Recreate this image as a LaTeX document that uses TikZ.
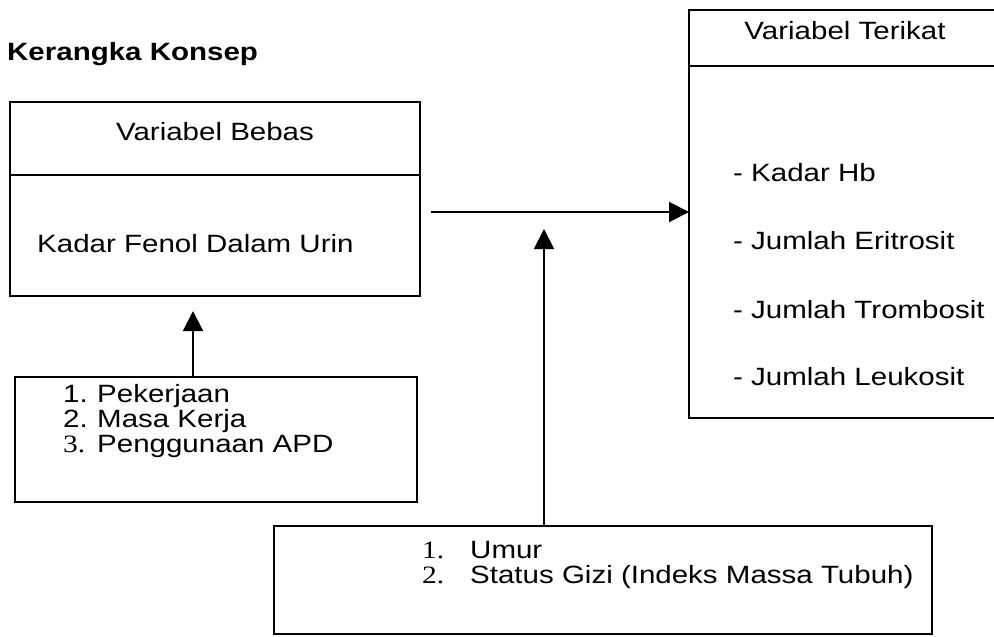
\documentclass[tikz,border=0pt]{standalone}
\usepackage{fontspec}
\setmainfont{Liberation Sans}[FakeStretch=1.18]
\newfontfamily\numfont{Liberation Serif}[FakeStretch=1.18]
\usetikzlibrary{arrows.meta, positioning}

\tikzset{
    box/.style={draw, rectangle, line width=2pt, outer sep=0pt, inner sep=0pt},
    head/.style={text height=18pt, text depth=15pt},
    txt/.style={anchor=base west, inner sep=0pt},
    link/.style={line width=2pt, -{Triangle[length=20pt, width=20pt]}}
}

\begin{document}
\begin{tikzpicture}[x=1pt, y=-1pt, font=\fontsize{25}{25}\selectfont]
    \useasboundingbox (0,0) rectangle (994,637);
    % Title
    \node (title) [txt, font=\fontsize{25}{25}\selectfont\bfseries] at (7,60) {Kerangka Konsep};
    % Define the blocks for the variables
    \node (bebashead) [box, head, anchor=north west, minimum width=410pt, minimum height=73pt] at (10,102) {Variabel Bebas};
    \node (bebas) [box, below=0pt of bebashead, minimum width=410pt, minimum height=121pt] {};
    \node (fenol) [txt] at (37,252) {Kadar Fenol Dalam Urin};
    \node (terikathead) [box, head, anchor=north west, minimum width=312pt, minimum height=56pt] at (689,10) {Variabel Terikat};
    \node (terikat) [box, below=0pt of terikathead, minimum width=312pt, minimum height=352pt] {};
    \node (hb) [txt] at (733,181) {- Kadar Hb};
    \node (eritrosit) [txt] at (733,249) {- Jumlah Eritrosit};
    \node (trombosit) [txt] at (733,318) {- Jumlah Trombosit};
    \node (leukosit) [txt] at (733,385) {- Jumlah Leukosit};
    % Factors of the exposure
    \node (kerja) [box, anchor=north west, minimum width=402pt, minimum height=125pt] at (15,377) {};
    \node (no1) [txt] at (63,402) {1.};
    \node (no2) [txt] at (63,427) {2.};
    \node (no3) [txt, font=\fontsize{25}{25}\numfont] at (63,452) {3.};
    \node (pekerjaan) [txt] at (97,402) {Pekerjaan};
    \node (masa) [txt] at (97,427) {Masa Kerja};
    \node (apd) [txt] at (97,452) {Penggunaan APD};
    % Confounding factors
    \node (umur) [box, anchor=north west, minimum width=658pt, minimum height=108pt] at (274,526) {};
    \node (no4) [txt, font=\fontsize{25}{25}\numfont] at (422,558) {1.};
    \node (no5) [txt, font=\fontsize{25}{25}\numfont] at (422,583) {2.};
    \node (umurtext) [txt] at (470,558) {Umur};
    \node (gizi) [txt] at (470,583) {Status Gizi (Indeks Massa Tubuh)};
    % Draw arrows to show the relations
    \coordinate (flow) at (431,212);
    \coordinate (tipkerja) at (193,311);
    \coordinate (tipumur) at (544,229);
    \draw[link] (flow) -- (flow -| terikat.west);
    \draw[link] (kerja.north -| tipkerja) -- (tipkerja);
    \draw[link] (umur.north -| tipumur) -- (tipumur);
\end{tikzpicture}
\end{document}
